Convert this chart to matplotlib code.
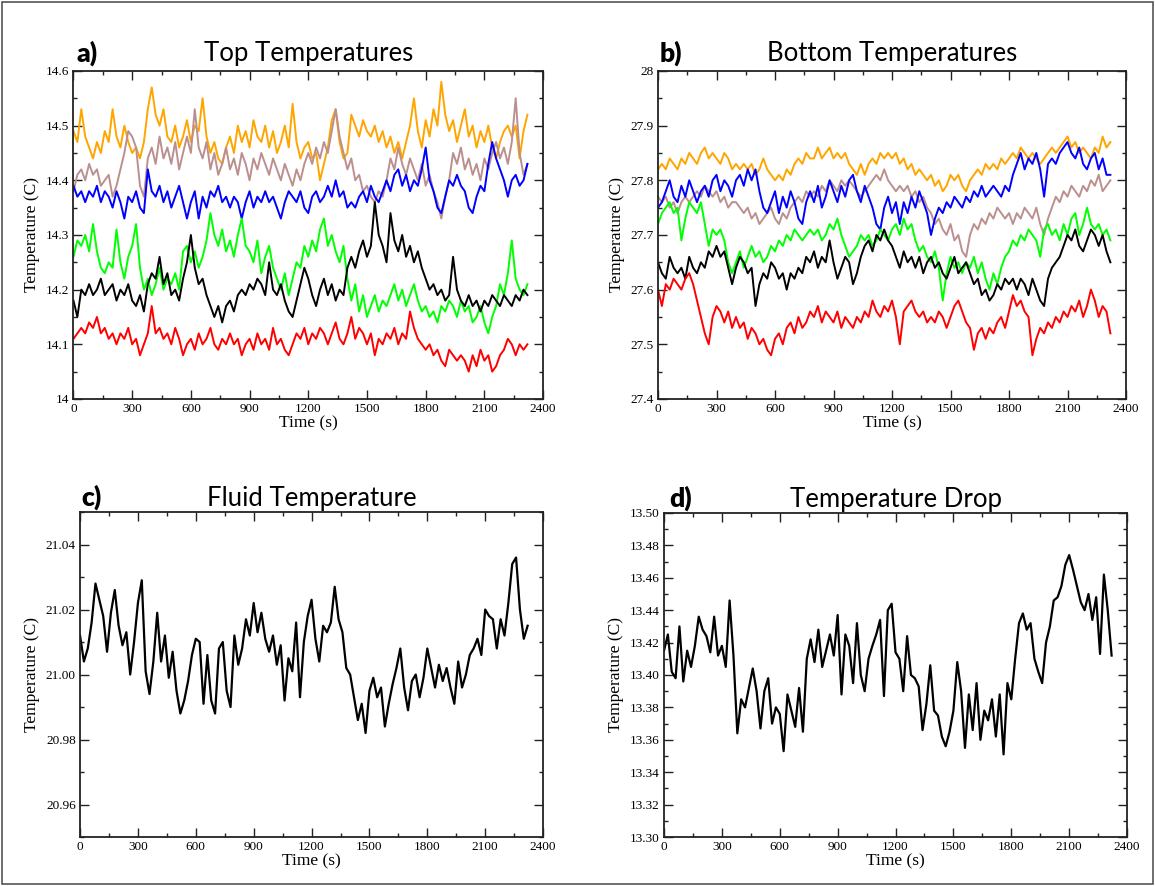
import numpy as np
import matplotlib.pyplot as plt
from matplotlib.ticker import MultipleLocator, FixedLocator, FormatStrFormatter
from matplotlib.patches import Rectangle

# sample times (s)
time_s = np.arange(0, 2321, 20)

# a) top temperatures
top_orange = [
    14.49, 14.47, 14.53, 14.48, 14.46, 14.44, 14.47, 14.45, 14.49, 14.47,
    14.53, 14.48, 14.46, 14.50, 14.47, 14.45, 14.46, 14.44, 14.47, 14.53,
    14.57, 14.52, 14.50, 14.53, 14.48, 14.47, 14.50, 14.46, 14.48, 14.51,
    14.47, 14.50, 14.49, 14.55, 14.48, 14.45, 14.47, 14.44, 14.43, 14.46,
    14.48, 14.45, 14.50, 14.47, 14.49, 14.46, 14.51, 14.48, 14.47, 14.50,
    14.46, 14.49, 14.45, 14.47, 14.50, 14.46, 14.54, 14.47, 14.44, 14.46,
    14.47, 14.44, 14.45, 14.40, 14.43, 14.46, 14.51, 14.53, 14.47, 14.44,
    14.45, 14.52, 14.50, 14.48, 14.51, 14.49, 14.48, 14.50, 14.47, 14.49,
    14.46, 14.48, 14.45, 14.47, 14.44, 14.47, 14.50, 14.55, 14.49, 14.46,
    14.51, 14.48, 14.53, 14.50, 14.58, 14.52, 14.49, 14.51, 14.47, 14.50,
    14.53, 14.48, 14.50, 14.46, 14.49, 14.47, 14.50, 14.46, 14.44, 14.47,
    14.49, 14.50, 14.48, 14.50, 14.44, 14.49, 14.52]
top_brown = [
    14.38, 14.41, 14.42, 14.40, 14.43, 14.41, 14.42, 14.39, 14.40, 14.41,
    14.37, 14.39, 14.42, 14.45, 14.49, 14.48, 14.46, 14.39, 14.37, 14.44,
    14.46, 14.43, 14.48, 14.44, 14.46, 14.43, 14.47, 14.42, 14.45, 14.48,
    14.45, 14.53, 14.46, 14.44, 14.47, 14.42, 14.45, 14.41, 14.43, 14.46,
    14.42, 14.44, 14.41, 14.45, 14.43, 14.40, 14.44, 14.42, 14.45, 14.43,
    14.41, 14.44, 14.42, 14.40, 14.43, 14.41, 14.39, 14.42, 14.40, 14.43,
    14.45, 14.43, 14.46, 14.44, 14.47, 14.45, 14.49, 14.53, 14.48, 14.45,
    14.42, 14.44, 14.40, 14.41, 14.38, 14.39, 14.37, 14.36, 14.38, 14.37,
    14.40, 14.44, 14.42, 14.46, 14.43, 14.41, 14.44, 14.42, 14.40, 14.43,
    14.39, 14.41, 14.38, 14.36, 14.33, 14.37, 14.40, 14.45, 14.43, 14.46,
    14.42, 14.44, 14.41, 14.43, 14.40, 14.44, 14.42, 14.45, 14.47, 14.44,
    14.46, 14.43, 14.47, 14.55, 14.45, 14.41, 14.43]
top_blue = [
    14.39, 14.37, 14.38, 14.36, 14.38, 14.37, 14.39, 14.36, 14.38, 14.37,
    14.35, 14.38, 14.36, 14.33, 14.37, 14.36, 14.38, 14.35, 14.34, 14.42,
    14.38, 14.37, 14.39, 14.36, 14.38, 14.35, 14.37, 14.39, 14.36, 14.33,
    14.36, 14.38, 14.33, 14.37, 14.35, 14.38, 14.37, 14.39, 14.36, 14.37,
    14.35, 14.37, 14.36, 14.33, 14.36, 14.38, 14.35, 14.37, 14.36, 14.38,
    14.36, 14.37, 14.35, 14.33, 14.36, 14.38, 14.37, 14.36, 14.38, 14.35,
    14.34, 14.37, 14.38, 14.36, 14.37, 14.39, 14.37, 14.40, 14.37, 14.38,
    14.35, 14.36, 14.35, 14.37, 14.38, 14.36, 14.39, 14.37, 14.36, 14.38,
    14.40, 14.38, 14.41, 14.42, 14.39, 14.41, 14.38, 14.40, 14.39, 14.42,
    14.46, 14.40, 14.38, 14.35, 14.34, 14.37, 14.40, 14.39, 14.41, 14.39,
    14.38, 14.35, 14.34, 14.37, 14.39, 14.38, 14.43, 14.47, 14.44, 14.42,
    14.40, 14.37, 14.40, 14.41, 14.39, 14.40, 14.43]
top_green = [
    14.26, 14.29, 14.28, 14.30, 14.27, 14.32, 14.27, 14.24, 14.23, 14.25,
    14.24, 14.31, 14.25, 14.22, 14.26, 14.28, 14.32, 14.24, 14.20, 14.22,
    14.19, 14.21, 14.24, 14.20, 14.22, 14.21, 14.23, 14.20, 14.27, 14.28,
    14.25, 14.27, 14.24, 14.26, 14.29, 14.34, 14.30, 14.28, 14.31, 14.27,
    14.29, 14.26, 14.30, 14.33, 14.28, 14.27, 14.25, 14.29, 14.23, 14.26,
    14.28, 14.24, 14.22, 14.20, 14.23, 14.19, 14.22, 14.25, 14.24, 14.28,
    14.26, 14.29, 14.27, 14.31, 14.33, 14.28, 14.30, 14.27, 14.25, 14.28,
    14.22, 14.18, 14.21, 14.16, 14.19, 14.15, 14.17, 14.19, 14.16, 14.18,
    14.17, 14.19, 14.21, 14.18, 14.20, 14.17, 14.19, 14.21, 14.18, 14.16,
    14.17, 14.15, 14.16, 14.14, 14.17, 14.16, 14.18, 14.17, 14.15, 14.18,
    14.16, 14.17, 14.14, 14.15, 14.17, 14.14, 14.12, 14.15, 14.17, 14.21,
    14.19, 14.23, 14.29, 14.22, 14.20, 14.19, 14.21]
top_black = [
    14.18, 14.15, 14.20, 14.19, 14.21, 14.19, 14.20, 14.22, 14.19, 14.20,
    14.21, 14.18, 14.20, 14.19, 14.21, 14.18, 14.17, 14.19, 14.16, 14.21,
    14.23, 14.22, 14.26, 14.21, 14.23, 14.19, 14.20, 14.18, 14.22, 14.25,
    14.30, 14.24, 14.21, 14.22, 14.19, 14.17, 14.15, 14.17, 14.14, 14.17,
    14.18, 14.16, 14.19, 14.20, 14.19, 14.21, 14.20, 14.22, 14.21, 14.19,
    14.25, 14.20, 14.19, 14.21, 14.18, 14.16, 14.15, 14.18, 14.21, 14.24,
    14.22, 14.19, 14.17, 14.20, 14.22, 14.19, 14.21, 14.18, 14.20, 14.19,
    14.24, 14.26, 14.24, 14.27, 14.29, 14.26, 14.28, 14.36, 14.30, 14.28,
    14.25, 14.34, 14.29, 14.27, 14.30, 14.26, 14.28, 14.25, 14.27, 14.24,
    14.22, 14.20, 14.21, 14.19, 14.20, 14.18, 14.19, 14.26, 14.20, 14.18,
    14.17, 14.19, 14.17, 14.18, 14.16, 14.18, 14.17, 14.19, 14.18, 14.17,
    14.19, 14.18, 14.17, 14.19, 14.18, 14.20, 14.19]
top_red = [
    14.11, 14.12, 14.13, 14.12, 14.14, 14.13, 14.15, 14.12, 14.13, 14.11,
    14.12, 14.10, 14.12, 14.11, 14.13, 14.10, 14.11, 14.08, 14.10, 14.12,
    14.17, 14.12, 14.13, 14.11, 14.12, 14.10, 14.13, 14.11, 14.08, 14.10,
    14.11, 14.09, 14.12, 14.10, 14.11, 14.13, 14.10, 14.09, 14.11, 14.10,
    14.12, 14.10, 14.11, 14.08, 14.10, 14.11, 14.09, 14.12, 14.10, 14.11,
    14.09, 14.13, 14.10, 14.11, 14.09, 14.08, 14.10, 14.12, 14.11, 14.13,
    14.10, 14.12, 14.11, 14.13, 14.12, 14.10, 14.12, 14.14, 14.11, 14.10,
    14.12, 14.15, 14.11, 14.13, 14.12, 14.10, 14.12, 14.08, 14.11, 14.10,
    14.12, 14.11, 14.13, 14.10, 14.12, 14.11, 14.16, 14.13, 14.11, 14.10,
    14.09, 14.10, 14.08, 14.09, 14.07, 14.06, 14.09, 14.08, 14.07, 14.08,
    14.07, 14.05, 14.08, 14.06, 14.09, 14.07, 14.08, 14.05, 14.06, 14.08,
    14.09, 14.11, 14.10, 14.08, 14.10, 14.09, 14.10]

# b) bottom temperatures
bot_orange = [
    27.82, 27.83, 27.82, 27.84, 27.83, 27.82, 27.84, 27.83, 27.85, 27.84,
    27.83, 27.85, 27.86, 27.84, 27.85, 27.84, 27.83, 27.85, 27.84, 27.82,
    27.83, 27.82, 27.83, 27.82, 27.83, 27.81, 27.82, 27.84, 27.82, 27.81,
    27.80, 27.81, 27.80, 27.82, 27.81, 27.83, 27.84, 27.83, 27.85, 27.84,
    27.84, 27.86, 27.84, 27.85, 27.86, 27.84, 27.85, 27.84, 27.85, 27.83,
    27.82, 27.81, 27.83, 27.81, 27.83, 27.84, 27.83, 27.85, 27.84, 27.85,
    27.84, 27.85, 27.83, 27.84, 27.82, 27.83, 27.81, 27.82, 27.81, 27.80,
    27.81, 27.79, 27.80, 27.78, 27.79, 27.81, 27.80, 27.81, 27.79, 27.78,
    27.80, 27.81, 27.82, 27.81, 27.83, 27.82, 27.83, 27.82, 27.84, 27.83,
    27.84, 27.85, 27.84, 27.86, 27.85, 27.84, 27.85, 27.84, 27.83, 27.84,
    27.85, 27.86, 27.85, 27.86, 27.87, 27.88, 27.86, 27.87, 27.85, 27.86,
    27.85, 27.84, 27.86, 27.85, 27.88, 27.86, 27.87]
bot_blue = [
    27.75, 27.76, 27.78, 27.80, 27.77, 27.76, 27.79, 27.77, 27.80, 27.78,
    27.76, 27.78, 27.79, 27.77, 27.80, 27.81, 27.78, 27.80, 27.79, 27.77,
    27.80, 27.81, 27.79, 27.82, 27.80, 27.82, 27.78, 27.75, 27.74, 27.76,
    27.78, 27.74, 27.77, 27.75, 27.78, 27.76, 27.73, 27.72, 27.76, 27.78,
    27.76, 27.79, 27.75, 27.77, 27.80, 27.78, 27.76, 27.79, 27.77, 27.80,
    27.81, 27.78, 27.76, 27.79, 27.77, 27.75, 27.72, 27.71, 27.75, 27.77,
    27.74, 27.76, 27.72, 27.76, 27.74, 27.77, 27.75, 27.78, 27.76, 27.74,
    27.70, 27.73, 27.75, 27.74, 27.76, 27.75, 27.77, 27.76, 27.75, 27.77,
    27.76, 27.78, 27.77, 27.79, 27.77, 27.78, 27.79, 27.78, 27.77, 27.79,
    27.78, 27.81, 27.83, 27.85, 27.82, 27.84, 27.83, 27.85, 27.82, 27.77,
    27.83, 27.84, 27.83, 27.85, 27.86, 27.87, 27.85, 27.84, 27.86, 27.83,
    27.82, 27.84, 27.85, 27.82, 27.84, 27.81, 27.81]
bot_brown = [
    27.77, 27.76, 27.77, 27.75, 27.76, 27.74, 27.76, 27.77, 27.76, 27.77,
    27.78, 27.77, 27.79, 27.78, 27.77, 27.78, 27.76, 27.77, 27.75, 27.76,
    27.76, 27.75, 27.74, 27.75, 27.73, 27.74, 27.72, 27.73, 27.74, 27.75,
    27.73, 27.72, 27.74, 27.73, 27.75, 27.76, 27.77, 27.76, 27.78, 27.77,
    27.78, 27.77, 27.79, 27.78, 27.80, 27.79, 27.78, 27.80, 27.79, 27.80,
    27.79, 27.78, 27.77, 27.78, 27.79, 27.80, 27.81, 27.80, 27.82, 27.80,
    27.79, 27.78, 27.79, 27.78, 27.79, 27.77, 27.78, 27.76, 27.77, 27.75,
    27.74, 27.72, 27.73, 27.71, 27.70, 27.72, 27.69, 27.70, 27.67, 27.66,
    27.70, 27.72, 27.71, 27.73, 27.72, 27.74, 27.73, 27.75, 27.74, 27.73,
    27.74, 27.72, 27.74, 27.73, 27.75, 27.74, 27.73, 27.75, 27.72, 27.70,
    27.73, 27.75, 27.77, 27.76, 27.78, 27.77, 27.79, 27.78, 27.77, 27.79,
    27.78, 27.80, 27.79, 27.81, 27.78, 27.79, 27.80]
bot_green = [
    27.72, 27.74, 27.75, 27.76, 27.74, 27.75, 27.69, 27.73, 27.76, 27.75,
    27.74, 27.76, 27.72, 27.68, 27.71, 27.70, 27.71, 27.69, 27.65, 27.63,
    27.65, 27.67, 27.64, 27.66, 27.68, 27.66, 27.67, 27.65, 27.66, 27.68,
    27.67, 27.69, 27.68, 27.70, 27.69, 27.71, 27.70, 27.69, 27.70, 27.71,
    27.70, 27.71, 27.69, 27.70, 27.72, 27.71, 27.73, 27.70, 27.68, 27.66,
    27.67, 27.68, 27.70, 27.69, 27.70, 27.68, 27.69, 27.71, 27.70, 27.69,
    27.71, 27.72, 27.70, 27.73, 27.71, 27.72, 27.69, 27.67, 27.68, 27.66,
    27.65, 27.67, 27.64, 27.58, 27.63, 27.66, 27.64, 27.65, 27.63, 27.65,
    27.64, 27.66, 27.63, 27.65, 27.62, 27.60, 27.63, 27.61, 27.64, 27.66,
    27.67, 27.69, 27.68, 27.70, 27.69, 27.71, 27.70, 27.69, 27.66, 27.71,
    27.72, 27.70, 27.71, 27.69, 27.72, 27.70, 27.73, 27.74, 27.70, 27.72,
    27.75, 27.72, 27.71, 27.72, 27.70, 27.71, 27.69]
bot_black = [
    27.65, 27.63, 27.62, 27.66, 27.64, 27.63, 27.64, 27.62, 27.66, 27.64,
    27.63, 27.65, 27.64, 27.67, 27.66, 27.68, 27.66, 27.67, 27.64, 27.61,
    27.64, 27.66, 27.65, 27.63, 27.64, 27.57, 27.61, 27.63, 27.62, 27.65,
    27.64, 27.62, 27.63, 27.60, 27.63, 27.62, 27.64, 27.63, 27.66, 27.65,
    27.67, 27.64, 27.66, 27.65, 27.69, 27.65, 27.62, 27.64, 27.66, 27.65,
    27.61, 27.63, 27.66, 27.68, 27.69, 27.67, 27.70, 27.69, 27.71, 27.69,
    27.68, 27.66, 27.64, 27.67, 27.65, 27.66, 27.64, 27.66, 27.63, 27.65,
    27.66, 27.64, 27.65, 27.63, 27.62, 27.64, 27.66, 27.63, 27.64, 27.65,
    27.63, 27.61, 27.62, 27.59, 27.60, 27.58, 27.59, 27.61, 27.60, 27.62,
    27.61, 27.62, 27.60, 27.62, 27.61, 27.59, 27.62, 27.60, 27.58, 27.57,
    27.62, 27.64, 27.65, 27.66, 27.68, 27.70, 27.69, 27.71, 27.68, 27.67,
    27.69, 27.71, 27.70, 27.68, 27.70, 27.67, 27.65]
bot_red = [
    27.60, 27.57, 27.61, 27.60, 27.62, 27.61, 27.60, 27.62, 27.63, 27.61,
    27.58, 27.55, 27.52, 27.50, 27.55, 27.57, 27.56, 27.54, 27.56, 27.53,
    27.55, 27.53, 27.54, 27.51, 27.53, 27.52, 27.50, 27.51, 27.49, 27.48,
    27.51, 27.52, 27.50, 27.53, 27.54, 27.52, 27.55, 27.53, 27.54, 27.56,
    27.55, 27.57, 27.54, 27.56, 27.55, 27.54, 27.56, 27.53, 27.55, 27.54,
    27.53, 27.55, 27.54, 27.56, 27.55, 27.58, 27.56, 27.55, 27.57, 27.56,
    27.58, 27.55, 27.50, 27.56, 27.57, 27.58, 27.56, 27.55, 27.56, 27.54,
    27.55, 27.54, 27.56, 27.55, 27.53, 27.55, 27.57, 27.58, 27.56, 27.54,
    27.53, 27.49, 27.52, 27.53, 27.51, 27.53, 27.52, 27.54, 27.55, 27.53,
    27.56, 27.59, 27.57, 27.58, 27.56, 27.55, 27.48, 27.51, 27.53, 27.52,
    27.54, 27.53, 27.55, 27.54, 27.56, 27.55, 27.57, 27.56, 27.58, 27.55,
    27.57, 27.60, 27.58, 27.55, 27.57, 27.56, 27.52]

# c) fluid temperature
fluid = [
    21.012, 21.004, 21.008, 21.016, 21.028, 21.023, 21.018, 21.007, 21.019, 21.026,
    21.015, 21.009, 21.013, 21.000, 21.010, 21.022, 21.029, 21.001, 20.994, 21.004,
    21.019, 21.004, 21.012, 20.999, 21.007, 20.995, 20.988, 20.992, 20.998, 21.006,
    21.011, 21.010, 20.991, 21.006, 20.992, 20.988, 21.008, 21.010, 20.995, 20.990,
    21.012, 21.003, 21.008, 21.017, 21.012, 21.022, 21.013, 21.019, 21.011, 21.007,
    21.012, 21.003, 21.009, 20.992, 21.005, 21.001, 21.016, 20.993, 21.010, 21.018,
    21.023, 21.011, 21.004, 21.015, 21.013, 21.016, 21.027, 21.017, 21.013, 21.002,
    21.000, 20.993, 20.986, 20.991, 20.982, 20.995, 20.999, 20.993, 20.996, 20.984,
    20.991, 20.997, 21.002, 21.008, 20.996, 20.989, 20.998, 21.000, 20.993, 20.999,
    21.008, 21.002, 20.996, 21.003, 20.998, 21.002, 20.996, 20.991, 21.004, 20.996,
    21.000, 21.006, 21.008, 21.011, 21.006, 21.020, 21.018, 21.017, 21.008, 21.017,
    21.012, 21.022, 21.034, 21.036, 21.020, 21.011, 21.015]

# d) temperature drop
drop = [
    13.415, 13.425, 13.402, 13.398, 13.430, 13.396, 13.415, 13.405, 13.418, 13.436,
    13.428, 13.424, 13.414, 13.436, 13.412, 13.418, 13.405, 13.446, 13.412, 13.364,
    13.385, 13.380, 13.392, 13.404, 13.390, 13.367, 13.390, 13.398, 13.370, 13.380,
    13.376, 13.353, 13.388, 13.378, 13.368, 13.392, 13.365, 13.410, 13.422, 13.408,
    13.428, 13.405, 13.415, 13.425, 13.412, 13.437, 13.388, 13.425, 13.418, 13.395,
    13.432, 13.400, 13.390, 13.410, 13.418, 13.425, 13.434, 13.387, 13.440, 13.444,
    13.414, 13.410, 13.390, 13.424, 13.400, 13.398, 13.393, 13.366, 13.382, 13.406,
    13.378, 13.375, 13.362, 13.356, 13.365, 13.378, 13.408, 13.390, 13.355, 13.388,
    13.366, 13.395, 13.360, 13.378, 13.372, 13.385, 13.362, 13.388, 13.351, 13.395,
    13.385, 13.410, 13.432, 13.438, 13.428, 13.432, 13.410, 13.402, 13.395, 13.420,
    13.430, 13.446, 13.448, 13.455, 13.468, 13.474, 13.465, 13.455, 13.445, 13.440,
    13.450, 13.434, 13.448, 13.413, 13.462, 13.440, 13.412]

ORANGE = "#ffa500"
BROWN = "#bc8f8f"
BLUE = "#0000ff"
GREEN = "#00ff00"
RED = "#ff0000"

serif = "Liberation Serif"
sans = "Lato"

fig = plt.figure(figsize=(11.55, 8.86), dpi=100)
fig.patches.append(Rectangle((0.002, 0.002), 0.996, 0.996, transform=fig.transFigure,
                             fill=False, edgecolor="#555555", linewidth=1.2))


def setup(ax, letter, title, ylim, major, minor, fmt, title_pad, letter_dx, fixed=None):
    ax.set_xlim(0, 2400)
    ax.set_ylim(*ylim)
    ax.xaxis.set_major_locator(MultipleLocator(300))
    ax.xaxis.set_minor_locator(MultipleLocator(150))
    if fixed is not None:
        ax.yaxis.set_major_locator(FixedLocator(fixed))
    else:
        ax.yaxis.set_major_locator(MultipleLocator(major))
    ax.yaxis.set_minor_locator(MultipleLocator(minor))
    ax.yaxis.set_major_formatter(FormatStrFormatter(fmt))
    ax.tick_params(which="both", direction="in", top=True, right=True, width=1.0,
                   colors="#222222")
    ax.tick_params(which="major", length=6.5, pad=3)
    ax.tick_params(which="minor", length=3.2)
    for lab in ax.get_xticklabels() + ax.get_yticklabels():
        lab.set_fontfamily(serif)
        lab.set_fontsize(9.5)
        lab.set_color("black")
    for sp in ax.spines.values():
        sp.set_linewidth(1.3)
        sp.set_color("#222222")
    ax.set_xlabel("Time (s)", fontfamily=serif, fontsize=12.5, labelpad=0)
    ax.set_ylabel("Temperature (C)", fontfamily=serif, fontsize=12.5, labelpad=4)
    ax.set_title(title, fontfamily=sans, fontsize=18.5, pad=title_pad)
    ax.annotate(letter, xy=(0, 1), xycoords="axes fraction",
                xytext=(letter_dx, title_pad), textcoords="offset points",
                fontfamily=sans, fontweight="heavy", fontsize=19, va="baseline")


ax_a = fig.add_axes([0.0636, 0.5497, 0.4066, 0.3702])
for ys, c in [(top_orange, ORANGE), (top_brown, BROWN), (top_blue, BLUE),
              (top_green, GREEN), (top_black, "black"), (top_red, RED)]:
    ax_a.plot(time_s, ys, color=c, lw=1.4)
setup(ax_a, "a)", "Top Temperatures", (14.0, 14.6), 0.1, 0.05, "%g", 7, 2.5)

ax_b = fig.add_axes([0.5697, 0.5497, 0.4052, 0.3702])
for ys, c in [(bot_orange, ORANGE), (bot_brown, BROWN), (bot_blue, BLUE),
              (bot_green, GREEN), (bot_black, "black"), (bot_red, RED)]:
    ax_b.plot(time_s, ys, color=c, lw=1.4)
setup(ax_b, "b)", "Bottom Temperatures", (27.4, 28.0), 0.1, 0.05, "%g", 7, 1.5)

ax_c = fig.add_axes([0.0693, 0.0553, 0.4009, 0.3668])
ax_c.plot(time_s, fluid, color="black", lw=1.6)
setup(ax_c, "c)", "Fluid Temperature", (20.95, 21.05), 0.02, 0.01, "%.2f", 4.3, 1,
      fixed=[20.96, 20.98, 21.00, 21.02, 21.04])

ax_d = fig.add_axes([0.5749, 0.0553, 0.4009, 0.3657])
ax_d.plot(time_s, drop, color="black", lw=1.6)
setup(ax_d, "d)", "Temperature Drop", (13.30, 13.50), 0.02, 0.01, "%.2f", 4.3, 4)

fig.savefig("out.png", dpi=100)
